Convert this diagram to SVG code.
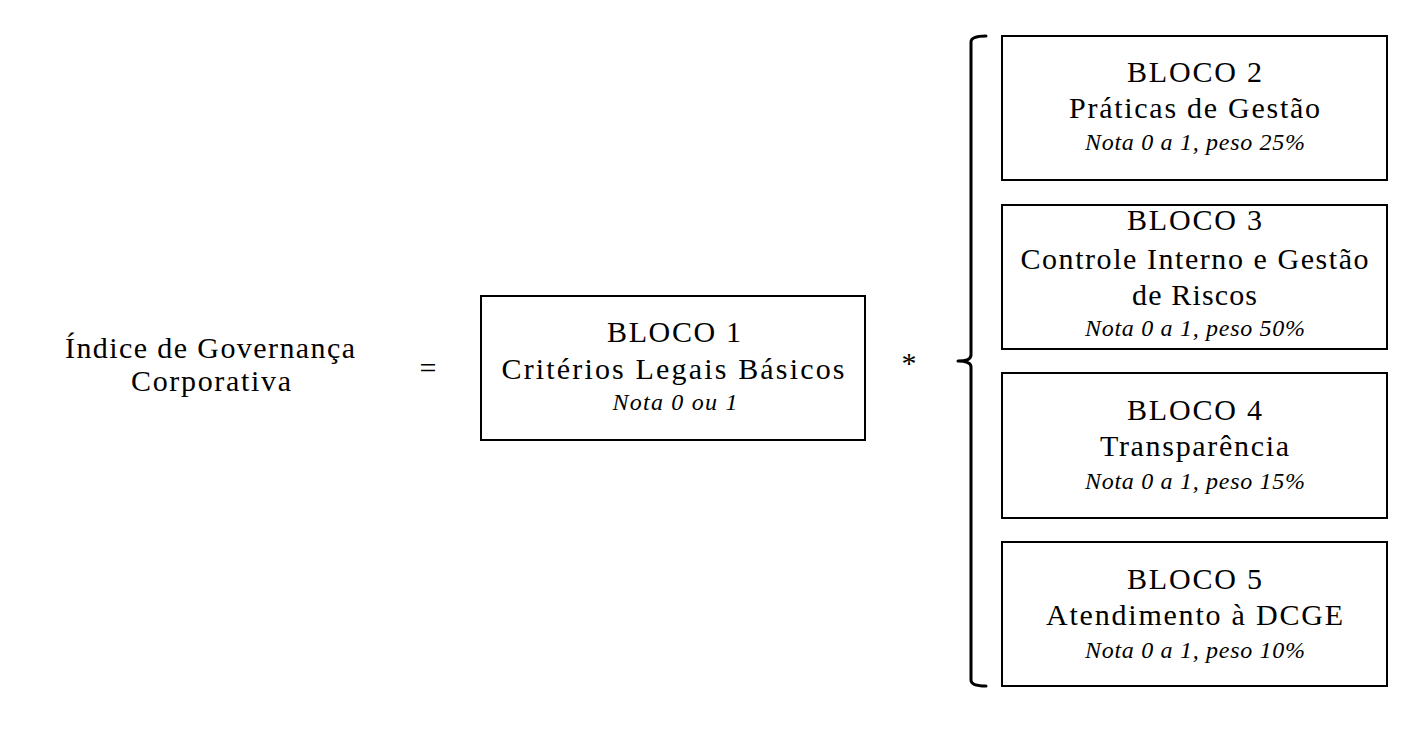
<svg xmlns="http://www.w3.org/2000/svg" width="1422" height="732" viewBox="0 0 1422 732">
<style>
.box{fill:#fff;stroke:#000;stroke-width:2}
.t{font-family:"Liberation Serif","Times New Roman",serif;font-size:30px;text-anchor:middle;fill:#000}
.i{font-family:"Liberation Serif","Times New Roman",serif;font-size:24px;font-style:italic;text-anchor:middle;fill:#000}
.br{fill:none;stroke:#000;stroke-width:3;stroke-linejoin:round;stroke-linecap:round}
</style>
<rect width="1422" height="732" fill="#fff"/>
<g id="lhs">
<text class="t" x="210" y="358" textLength="290" lengthAdjust="spacing">Índice de Governança</text>
<text class="t" x="211" y="391" textLength="160" lengthAdjust="spacing">Corporativa</text>
</g>
<g id="ops">
<text class="t" x="428" y="378">=</text>
<text class="t" x="909" y="373">*</text>
</g>
<g id="bloco1">
<rect class="box" x="481" y="296" width="384" height="144"/>
<text class="t" x="674" y="342" textLength="134" lengthAdjust="spacing">BLOCO 1</text>
<text class="t" x="673" y="379" textLength="343" lengthAdjust="spacing">Critérios Legais Básicos</text>
<text class="i" x="675" y="410" textLength="125" lengthAdjust="spacing">Nota 0 ou 1</text>
</g>
<g id="connectors">
<path class="br" d="M986,36 Q971,36 971,42 L971,355 Q971,361 958,361 Q971,361 971,367 L971,680 Q971,686 986,686"/>
</g>
<g id="bloco2">
<rect class="box" x="1002" y="36" width="385" height="144"/>
<text class="t" x="1194.5" y="82" textLength="135" lengthAdjust="spacing">BLOCO 2</text>
<text class="t" x="1194.5" y="118" textLength="251" lengthAdjust="spacing">Práticas de Gestão</text>
<text class="i" x="1195" y="150" textLength="220" lengthAdjust="spacing">Nota 0 a 1, peso 25%</text>
</g>
<g id="bloco3">
<rect class="box" x="1002" y="205" width="385" height="144"/>
<text class="t" x="1194.5" y="230" textLength="135" lengthAdjust="spacing">BLOCO 3</text>
<text class="t" x="1194.5" y="269" textLength="348" lengthAdjust="spacing">Controle Interno e Gestão</text>
<text class="t" x="1194.5" y="305" textLength="125" lengthAdjust="spacing">de Riscos</text>
<text class="i" x="1195" y="336" textLength="220" lengthAdjust="spacing">Nota 0 a 1, peso 50%</text>
</g>
<g id="bloco4">
<rect class="box" x="1002" y="373" width="385" height="145"/>
<text class="t" x="1194.5" y="420" textLength="135" lengthAdjust="spacing">BLOCO 4</text>
<text class="t" x="1194.5" y="456" textLength="189" lengthAdjust="spacing">Transparência</text>
<text class="i" x="1195" y="489" textLength="220" lengthAdjust="spacing">Nota 0 a 1, peso 15%</text>
</g>
<g id="bloco5">
<rect class="box" x="1002" y="542" width="385" height="144"/>
<text class="t" x="1194.5" y="589" textLength="135" lengthAdjust="spacing">BLOCO 5</text>
<text class="t" x="1194.5" y="625" textLength="297" lengthAdjust="spacing">Atendimento à DCGE</text>
<text class="i" x="1195" y="658" textLength="220" lengthAdjust="spacing">Nota 0 a 1, peso 10%</text>
</g>
</svg>
